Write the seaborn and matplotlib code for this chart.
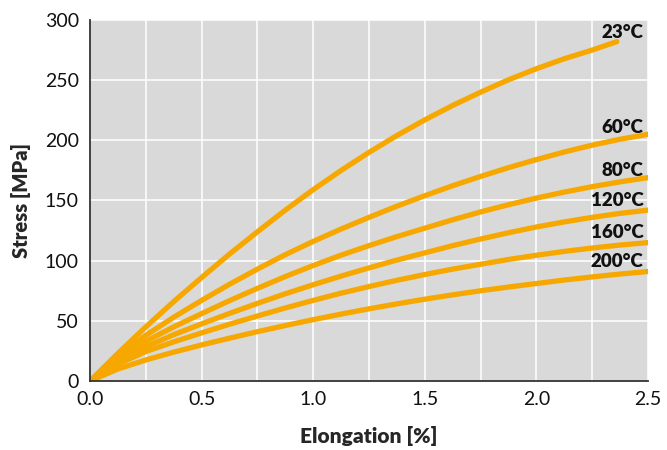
import matplotlib
matplotlib.use("Agg")
import matplotlib.pyplot as plt
import seaborn as sns
import pandas as pd
import numpy as np

# Data (elongation in %, stress in MPa)
elong = [0, 0.125, 0.25, 0.375, 0.5, 0.625, 0.75, 0.875, 1.0, 1.125, 1.25,
         1.375, 1.5, 1.625, 1.75, 1.875, 2.0, 2.125, 2.25, 2.375, 2.5]
elong_23 = [0, 0.125, 0.25, 0.375, 0.5, 0.625, 0.75, 0.875, 1.0, 1.125, 1.25,
            1.375, 1.5, 1.625, 1.75, 1.875, 2.0, 2.125, 2.25, 2.36]
s_23 = [0, 23, 45, 66, 86, 105.5, 124, 142, 159, 175, 190,
        204, 217, 229, 240, 250.3, 259.5, 267.8, 275, 282]
s_60 = [0, 20.5, 38, 53, 67, 80.4, 93, 105, 116, 126.3, 136,
        145.3, 154, 162.3, 170, 177.3, 184, 190.3, 196, 200.9, 205]
s_80 = [0, 18, 33, 45, 56, 66.8, 77, 86.8, 96, 104.6, 112.5,
        120, 127, 134, 140.5, 146.5, 152, 157, 161.5, 165.5, 169]
s_120 = [0, 16, 28.5, 38.5, 47.5, 56.2, 64.5, 72.5, 80, 87.2, 94,
         100.5, 106.5, 112.5, 118, 123.2, 128, 132.2, 136, 139.3, 142]
s_160 = [0, 14, 24.5, 32.5, 40, 47.2, 54, 60.7, 67, 73, 78.5,
         83.7, 88.5, 93, 97, 101, 104.5, 107.7, 110.5, 113, 115]
s_200 = [0, 10, 17.5, 24, 30, 35.6, 41, 46.1, 51, 55.6, 60,
         64.1, 68, 71.6, 75, 78.1, 81, 83.9, 86.5, 88.9, 91]
labels = ["23°C", "60°C", "80°C", "120°C", "160°C", "200°C"]
label_y = [290, 211, 175, 150, 123, 99]
x_ticks = [0.0, 0.5, 1.0, 1.5, 2.0, 2.5]
y_ticks = [0, 50, 100, 150, 200, 250, 300]

frames = []
for lab, xs, ys in zip(labels,
                       [elong_23, elong, elong, elong, elong, elong],
                       [s_23, s_60, s_80, s_120, s_160, s_200]):
    frames.append(pd.DataFrame({"Elongation": xs, "Stress": ys, "Temp": lab}))
df = pd.concat(frames, ignore_index=True)

sns.set_style("white")
plt.rcParams["font.family"] = ["Lato", "DejaVu Sans"]

ORANGE = "#F7A800"
fig = plt.figure(figsize=(6.67, 4.5), dpi=100)
ax = fig.add_axes([0.135, 0.1533, 0.9715 - 0.135, 0.9556 - 0.1533])
ax.set_facecolor("#D9D9D9")

sns.lineplot(data=df, x="Elongation", y="Stress", hue="Temp",
             palette=[ORANGE] * 6, linewidth=3.8, legend=False, ax=ax,
             sort=False, solid_capstyle="round", solid_joinstyle="round")

ax.set_xlim(0, 2.5)
ax.set_ylim(0, 300)
ax.set_xticks(x_ticks)
ax.set_xticks(np.arange(0.25, 2.5, 0.5), minor=True)
ax.set_yticks(y_ticks)
ax.set_xticklabels([f"{v:.1f}" for v in x_ticks])
ax.set_yticklabels([str(v) for v in y_ticks])
ax.grid(True, which="both", color="white", linewidth=1.1)
ax.set_axisbelow(True)
ax.tick_params(axis="both", which="both", length=0, labelsize=14, colors="#111111")
ax.tick_params(axis="x", pad=7)
ax.tick_params(axis="y", pad=8)

for side in ["top", "right"]:
    ax.spines[side].set_visible(False)
for side in ["left", "bottom"]:
    ax.spines[side].set_color("#333333")
    ax.spines[side].set_linewidth(1.3)

ax.set_xlabel("Elongation [%]", fontsize=15, fontweight="heavy", labelpad=13)
ax.set_ylabel("Stress [MPa]", fontsize=14.5, fontweight="heavy", labelpad=10)

for lab, yv in zip(labels, label_y):
    ax.text(2.48, yv, lab, ha="right", va="center", fontsize=13.5,
            fontweight="heavy", color="#111111")

fig.savefig("out.png", dpi=100)
